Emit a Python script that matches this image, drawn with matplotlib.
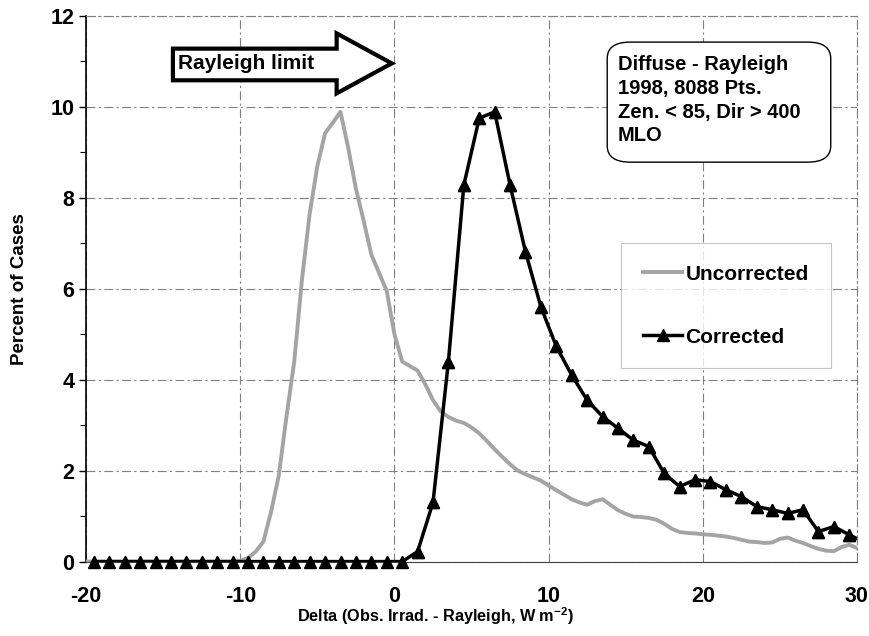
import matplotlib
matplotlib.use("Agg")
import matplotlib.pyplot as plt
from matplotlib.patches import Polygon, FancyBboxPatch

plt.rcParams['font.family'] = ['Liberation Sans', 'DejaVu Sans']
plt.rcParams['font.weight'] = 'bold'
plt.rcParams['axes.unicode_minus'] = False
plt.rcParams['mathtext.fontset'] = 'custom'
plt.rcParams['mathtext.rm'] = 'Liberation Sans:bold'
plt.rcParams['mathtext.default'] = 'rm'

# corrected histogram, bin centres -19.5 ... 30.5
corr_x = [i + 0.5 for i in range(-20, 31)]
corr_y = [0] * 20 + [0.0, 0.22, 1.30, 4.40, 8.28, 9.75, 9.89, 8.28, 6.81, 5.60,
                     4.73, 4.10, 3.55, 3.19, 2.93, 2.67, 2.53, 1.94, 1.65, 1.80,
                     1.76, 1.58, 1.43, 1.21, 1.14, 1.06, 1.14, 0.66, 0.77, 0.59,
                     0.42]

# uncorrected, step 0.5 from -20 to 30
unc_x = [i * 0.5 for i in range(-40, 61)]
unc_y = [0] * 20 + [0.02, 0.08, 0.22, 0.44, 1.10, 1.90, 3.20, 4.40, 6.20, 7.65,
                    8.70, 9.42, 9.65, 9.89, 9.10, 8.20, 7.50, 6.75, 6.35, 5.95,
                    5.00, 4.40, 4.30, 4.20, 3.90, 3.55, 3.30, 3.18, 3.10, 3.05,
                    2.95, 2.82, 2.65, 2.47, 2.30, 2.14, 2.00, 1.92, 1.85, 1.78,
                    1.67, 1.57, 1.47, 1.37, 1.30, 1.25, 1.33, 1.37, 1.25, 1.13,
                    1.05, 0.99, 0.98, 0.96, 0.92, 0.83, 0.72, 0.65, 0.63, 0.62,
                    0.60, 0.59, 0.57, 0.55, 0.52, 0.48, 0.44, 0.43, 0.41, 0.42,
                    0.50, 0.53, 0.46, 0.41, 0.34, 0.28, 0.24, 0.23, 0.32, 0.37,
                    0.30]

box_text = "Diffuse - Rayleigh\n1998, 8088 Pts.\nZen. < 85, Dir > 400\nMLO"

fig = plt.figure(figsize=(8.7, 6.36), dpi=100)
ax = fig.add_axes([0.099, 0.117, 0.886, 0.858])

grid_ls = (0, (8, 3, 2, 3))
ax.set_xlim(-20, 30)
ax.set_ylim(0, 12)
ax.set_xticks([-20, -10, 0, 10, 20, 30])
ax.set_yticks(range(0, 13, 2))
ax.set_yticks(range(1, 12, 2), minor=True)
ax.grid(True, which='major', color='#808080', linestyle=grid_ls, linewidth=0.8)
ax.tick_params(axis='both', which='major', labelsize=15.5, length=5, width=1)
ax.tick_params(axis='y', which='minor', length=4, width=0.8)
ax.tick_params(axis='x', which='major', length=0, pad=17.5)
for lab in ax.get_xticklabels() + ax.get_yticklabels():
    lab.set_fontweight('bold')

for s in ['top', 'right']:
    ax.spines[s].set_color('#808080')
    ax.spines[s].set_linestyle(grid_ls)
    ax.spines[s].set_linewidth(0.8)
ax.spines['left'].set_linewidth(1.2)
ax.spines['bottom'].set_color('#404040')

ax.plot(unc_x, unc_y, color='#a4a4a4', linewidth=2.8, label='Uncorrected', zorder=3)
ax.plot(corr_x, corr_y, color='black', linewidth=2.5, marker='^', markersize=8,
        label='Corrected', zorder=4)
# markers on the zero line sit partly below the axis
ax.plot(corr_x[:-1], corr_y[:-1], linestyle='none', marker='^', markersize=8,
        color='black', clip_on=False, zorder=5)

ax.set_xlabel(r'Delta (Obs. Irrad. - Rayleigh, W m$^{-2}$)', fontsize=11.7,
              fontweight='bold')
ax.xaxis.set_label_coords(0.453, -0.080)
ax.set_ylabel('Percent of Cases', fontsize=13.5, fontweight='bold')
ax.yaxis.set_label_coords(-0.076, 0.5)

leg = ax.legend(loc='upper right', bbox_to_anchor=(0.966, 0.584), borderaxespad=0,
                fontsize=15, frameon=True, fancybox=False, handlelength=1.9,
                handletextpad=0.15, labelspacing=2.1, borderpad=1.05)
leg.get_frame().set_edgecolor('#b8b8b8')
leg.get_frame().set_linewidth(0.8)

# Rayleigh limit block arrow (axes fraction coordinates)
arrow = Polygon([[0.1126, 0.940], [0.325, 0.940], [0.325, 0.968], [0.3965, 0.913],
                 [0.325, 0.858], [0.325, 0.882], [0.1126, 0.882]],
                closed=True, transform=ax.transAxes, facecolor='white',
                edgecolor='black', linewidth=3, zorder=6, clip_on=False)
ax.add_patch(arrow)
ax.text(0.119, 0.913, 'Rayleigh limit', transform=ax.transAxes, fontsize=15,
        fontweight='bold', va='center', ha='left', zorder=7)

box = FancyBboxPatch((0.676, 0.732), 0.290, 0.220,
                     boxstyle='round,pad=0.0,rounding_size=0.03',
                     transform=ax.transAxes, facecolor='white', edgecolor='black',
                     linewidth=1.0, zorder=6)
ax.add_patch(box)
ax.text(0.690, 0.929, box_text, transform=ax.transAxes, fontsize=14.5,
        fontweight='bold', va='top', ha='left', linespacing=1.33, zorder=7)

fig.savefig('out.png', dpi=100)
